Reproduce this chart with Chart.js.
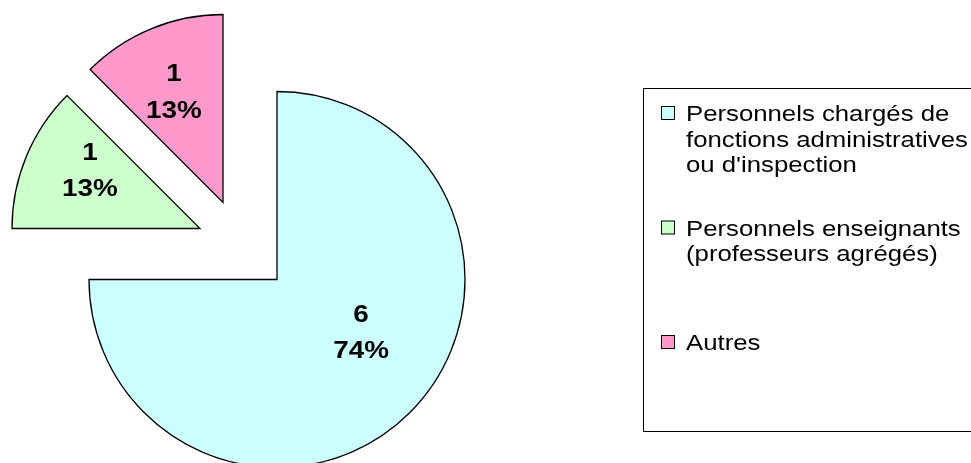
<!DOCTYPE html>
<html lang="fr">
<head>
  <meta charset="utf-8">
  <title>Répartition des personnels</title>
  <script src="https://cdn.jsdelivr.net/npm/chart.js"></script>
  <style>
    html, body { margin: 0; padding: 0; background: #fff; }
    #wrap { width: 971px; height: 463px; }
  </style>
</head>
<body>
  <div id="wrap"><canvas id="pieChart" width="971" height="463"></canvas></div>

  <script>
    const categories = [
      ['Personnels chargés de', 'fonctions administratives', "ou d'inspection"],
      ['Personnels enseignants', '(professeurs agrégés)'],
      ['Autres']
    ];
    const counts = [6, 1, 1];
    const percentLabels = ['74%', '13%', '13%'];
    const sliceColors = ['#CCFFFF', '#CCFFCC', '#FF99CC'];

    // exploded slices, shift in px [dx, dy]
    const explode = [[0, 0], [-77, -51], [-54, -77]];
    // label placement: fraction of radius, angle tweak (deg) from bisector
    const labelPlace = [[0.53, -12.5], [0.66, 5], [0.64, -1.6]];

    const FONT = '"Liberation Sans", Arial, sans-serif';
    const TEXT_STRETCH = 1.17;

    function drawStretched(ctx, text, x, y, sx) {
      ctx.save();
      ctx.translate(x, y);
      ctx.scale(sx, 1);
      ctx.fillText(text, 0, 0);
      ctx.restore();
    }

    const explodePlugin = {
      id: 'explode',
      afterDatasetsUpdate(chart) {
        chart.getDatasetMeta(0).data.forEach((arc, i) => {
          arc.x += explode[i][0];
          arc.y += explode[i][1];
        });
      }
    };

    const sliceLabels = {
      id: 'sliceLabels',
      afterDatasetsDraw(chart) {
        const ctx = chart.ctx;
        ctx.save();
        ctx.font = 'bold 24px ' + FONT;
        ctx.fillStyle = '#000';
        ctx.textAlign = 'center';
        ctx.textBaseline = 'middle';
        chart.getDatasetMeta(0).data.forEach((arc, i) => {
          const p = arc.getProps(['x', 'y', 'startAngle', 'endAngle', 'outerRadius'], true);
          const [frac, tweak] = labelPlace[i];
          const a = (p.startAngle + p.endAngle) / 2 + tweak * Math.PI / 180;
          const r = p.outerRadius * frac;
          const cx = p.x + Math.cos(a) * r;
          const cy = p.y + Math.sin(a) * r;
          drawStretched(ctx, String(counts[i]), cx, cy - 18, 1.16);
          drawStretched(ctx, percentLabels[i], cx, cy + 18.5, 1.16);
        });
        ctx.restore();
      }
    };

    // boxed legend on the right
    const boxLegend = {
      id: 'boxLegend',
      afterDraw(chart) {
        const ctx = chart.ctx;
        const box = { left: 643, top: 88, right: chart.width + 10, bottom: 431 };
        ctx.save();
        ctx.strokeStyle = '#000';
        ctx.lineWidth = 1;
        ctx.strokeRect(box.left + 0.5, box.top + 0.5, box.right - box.left, box.bottom - box.top);

        ctx.font = '22px ' + FONT;
        ctx.textAlign = 'left';
        ctx.textBaseline = 'alphabetic';
        const ds = chart.data.datasets[0];
        chart.data.labels.forEach((lines, i) => {
          const base = box.top + 33 + i * 114.5;
          ctx.fillStyle = ds.backgroundColor[i];
          ctx.fillRect(661, base - 15, 14, 14);
          ctx.strokeRect(661.5, base - 14.5, 13, 13);
          ctx.fillStyle = '#000';
          lines.forEach((line, j) => {
            drawStretched(ctx, line, 686, base + j * 25.5, TEXT_STRETCH);
          });
        });
        ctx.restore();
      }
    };

    new Chart(document.getElementById('pieChart'), {
      type: 'pie',
      data: {
        labels: categories,
        datasets: [{
          data: counts,
          backgroundColor: sliceColors,
          borderColor: '#000',
          borderWidth: 1.3,
          borderJoinStyle: 'miter'
        }]
      },
      options: {
        responsive: false,
        animation: false,
        events: [],
        radius: 188,
        layout: { padding: { left: 0, right: 417, top: 96, bottom: 0 } },
        plugins: {
          legend: { display: false },
          tooltip: { enabled: false }
        }
      },
      plugins: [explodePlugin, sliceLabels, boxLegend]
    });
  </script>
</body>
</html>
